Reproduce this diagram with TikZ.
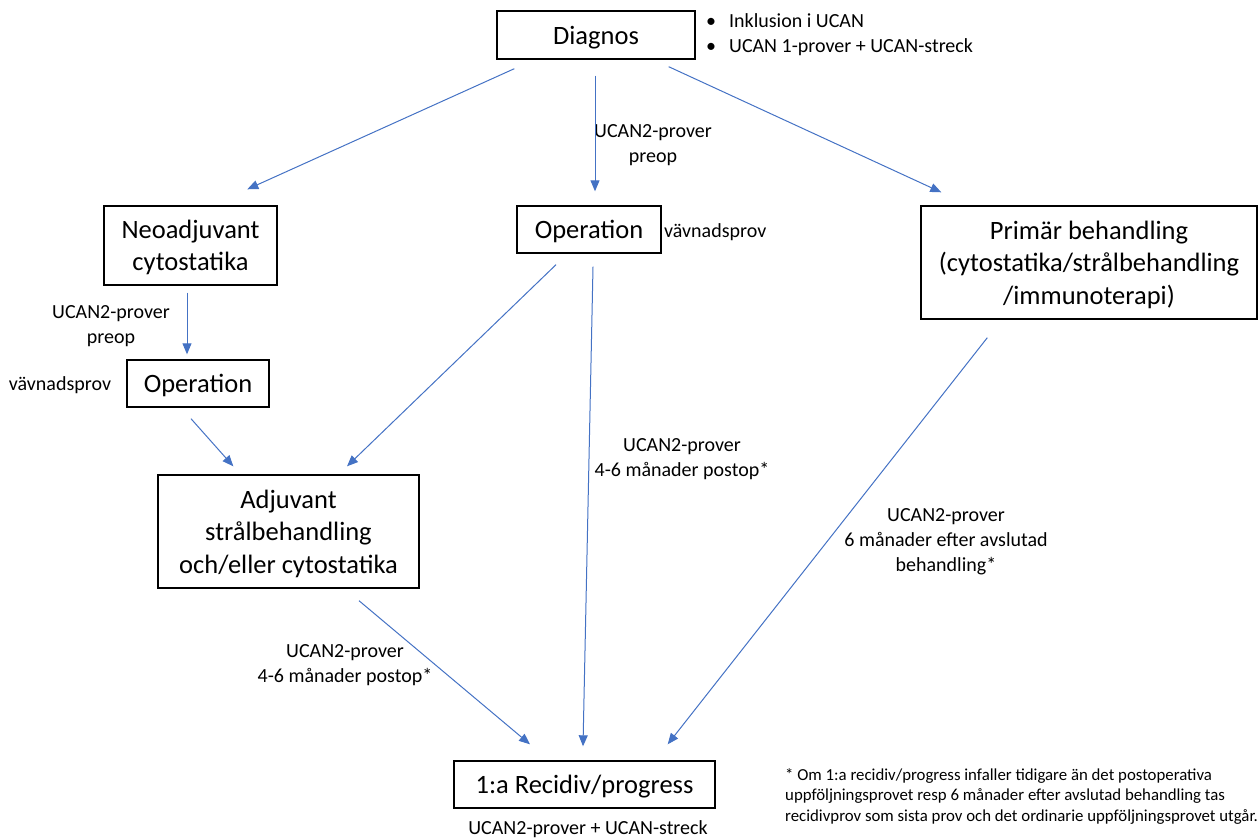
\documentclass[tikz,border=0pt]{standalone}
\usepackage{fontspec}
\setmainfont{Carlito}
\usetikzlibrary{arrows.meta,calc}
\definecolor{ucanblue}{HTML}{4472C4}

\begin{document}
\begin{tikzpicture}[
    x=1pt, y=-1pt,
    phase/.style={
      draw=black,
      line width=1.4pt,
      align=center,
      inner sep=0pt,
      text depth=0pt,
      font=\fontsize{26.5}{32.5}\selectfont,
    },
    note/.style={align=center, inner sep=0pt, font=\fontsize{20}{25}\selectfont},
    arrow/.style={
      -{Triangle[length=11pt,width=9pt]},
      line width=1pt,
      draw=ucanblue,
    },
  ]
    \useasboundingbox (0,0) rectangle (1258,838);
    % boxes
    \node[phase, minimum width=198pt, minimum height=48pt] (diag) at (596,35) {Diagnos};
    \node[phase, minimum width=173pt, minimum height=79pt] (neo) at (190.5,245.5) {Neoadjuvant\\cytostatika};
    \node[phase, minimum width=144pt, minimum height=47pt] (opm) at (589,229.5) {Operation};
    \node[phase, minimum width=336pt, minimum height=113pt] (prim) at (1089,262.5) {Primär behandling\\(cytostatika/strålbehandling\\/immunoterapi)};
    \node[phase, minimum width=142pt, minimum height=47pt] (opl) at (198,383.5) {Operation};
    \node[phase, minimum width=261pt, minimum height=113pt] (adj) at (288.5,531.5) {Adjuvant\\strålbehandling\\och/eller cytostatika};
    \node[phase, minimum width=261pt, minimum height=47pt] (rec) at (584.5,784.5) {1:a Recidiv/progress};
    % texts
    \node[note, anchor=west, align=left] (incl) at (706,35) {%
      \begin{tabular}{@{}l@{\hspace{13pt}}l@{}}
        \textbullet & Inklusion i UCAN\\
        \textbullet & UCAN 1-prover + UCAN-streck
      \end{tabular}};
    \node[note] (preopm) at (653,145.5) {UCAN2-prover\\preop};
    \node[note] (preopl) at (111,326.5) {UCAN2-prover\\preop};
    \node[note, anchor=west] (vavm) at (664,232) {vävnadsprov};
    \node[note] (vavl) at (60,385) {vävnadsprov};
    \node[note] (postm) at (682,459.5) {UCAN2-prover\\4-6 månader postop*};
    \node[note] (postl) at (345,665.5) {UCAN2-prover\\4-6 månader postop*};
    \node[note] (avsl) at (946,541.5) {UCAN2-prover\\6 månader efter avslutad\\behandling*};
    \node[note] (recprov) at (588,829) {UCAN2-prover + UCAN-streck};
    \node[note, anchor=north west, align=left, font=\fontsize{16.8}{20.5}\selectfont] (fotnot) at (785,768) {%
      * Om 1:a recidiv/progress infaller tidigare än det postoperativa\\
      uppföljningsprovet resp 6 månader efter avslutad behandling tas\\
      recidivprov som sista prov och det ordinarie uppföljningsprovet utgår.};
    % connectors
    \draw[arrow] ($(diag.south west)+(18,9)$) -- ($(neo.north west)+(144,-16)$);
    \draw[arrow] ($(diag.south)+(-1,16)$) -- ($(opm.north)+(6,-14)$);
    \draw[arrow] ($(diag.south east)+(-27,7)$) -- ($(prim.north west)+(21,-13)$);
    \draw[arrow] ($(neo.south)+(-3.5,7)$) -- ($(opl.north)+(-11,-5)$);
    \draw[arrow] ($(opl.south)+(-7,11)$) -- ($(adj.north west)+(76,-8)$);
    \draw[arrow] ($(opm.south)+(-33,11)$) -- ($(adj.north)+(58.5,-8)$);
    \draw[arrow] ($(opm.south)+(4,13)$) -- ($(rec.north)+(-1.5,-14)$);
    \draw[arrow] ($(adj.south)+(70.5,12)$) -- ($(rec.north)+(-54.5,-16)$);
    \draw[arrow] ($(prim.south west)+(67,18)$) -- ($(rec.north east)+(-48,-16)$);
  \end{tikzpicture}
\end{document}
